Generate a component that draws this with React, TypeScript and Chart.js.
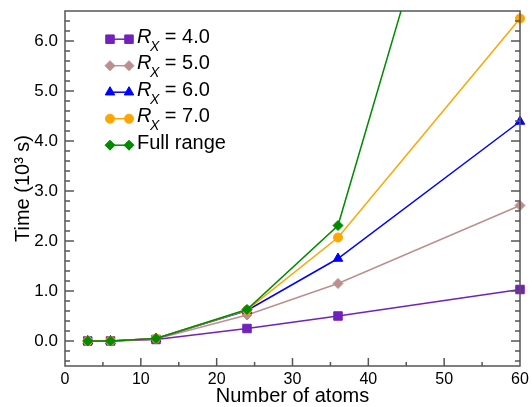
import React, { useEffect, useRef } from "react";
import { Chart, registerables } from "chart.js";

Chart.register(...registerables);

// ---- data ----
const atoms = [3, 6, 12, 24, 36, 60];
const rx4 = [0, 0, 0.03, 0.25, 0.5, 1.03];
const rx5 = [0, 0, 0.04, 0.52, 1.15, 2.71];
const rx6 = [0, 0, 0.05, 0.61, 1.65, 4.39];
const rx7 = [0, 0, 0.05, 0.62, 2.07, 6.45];
const fullRange = [0, 0, 0.05, 0.63, 2.31, 14.7];
const rxValues = ["4.0", "5.0", "6.0", "7.0"];
const fullLabel = "Full range";
const xTicks = [0, 10, 20, 30, 40, 50, 60];
const yTicks = [0, 1, 2, 3, 4, 5, 6];
const xTitle = "Number of atoms";
const yTitle = "Time (10\u00B3 s)";

const FONT = '"Liberation Sans", Arial, Helvetica, sans-serif';
const AXIS = "#555";

const C4 = "#7221bc";
const C5 = "#bc8f8f";
const C6 = "#0000ff";
const C7 = "#ffa500";
const CF = "#008b00";

type Marker = "square" | "diamond" | "triangle" | "circle";

const series = [
  { data: rx4, color: C4, marker: "square" as Marker, style: "rect", r: 6 },
  { data: rx5, color: C5, marker: "diamond" as Marker, style: "rectRot", r: 5 },
  { data: rx6, color: C6, marker: "triangle" as Marker, style: "triangle", r: 5.5 },
  { data: rx7, color: C7, marker: "circle" as Marker, style: "circle", r: 4.5 },
  { data: fullRange, color: CF, marker: "diamond" as Marker, style: "rectRot", r: 5 },
];

function drawMarker(ctx: CanvasRenderingContext2D, m: Marker, x: number, y: number, r: number, color: string) {
  ctx.save();
  ctx.fillStyle = color;
  ctx.strokeStyle = color;
  ctx.lineWidth = 1;
  ctx.beginPath();
  if (m === "square") {
    const s = Math.SQRT1_2 * r;
    ctx.rect(x - s, y - s, 2 * s, 2 * s);
  } else if (m === "diamond") {
    ctx.moveTo(x - r, y);
    ctx.lineTo(x, y - r);
    ctx.lineTo(x + r, y);
    ctx.lineTo(x, y + r);
    ctx.closePath();
  } else if (m === "triangle") {
    let a = 0;
    ctx.moveTo(x + Math.sin(a) * r, y - Math.cos(a) * r);
    a += (2 * Math.PI) / 3;
    ctx.lineTo(x + Math.sin(a) * r, y - Math.cos(a) * r);
    a += (2 * Math.PI) / 3;
    ctx.lineTo(x + Math.sin(a) * r, y - Math.cos(a) * r);
    ctx.closePath();
  } else {
    ctx.arc(x, y, r, 0, Math.PI * 2);
  }
  ctx.fill();
  ctx.stroke();
  ctx.restore();
}

const framePlugin = {
  id: "frame",
  afterDraw(chart: any) {
    const { ctx, chartArea: a, scales } = chart;
    const xs = scales.x;
    const ys = scales.y;
    ctx.save();
    ctx.strokeStyle = AXIS;
    ctx.lineWidth = 1.5;
    const line = (x1: number, y1: number, x2: number, y2: number) => {
      ctx.beginPath();
      ctx.moveTo(x1, y1);
      ctx.lineTo(x2, y2);
      ctx.stroke();
    };
    for (let v = -4; v <= 64; v += 2) {
      const py = ys.getPixelForValue(v / 10);
      const len = v % 10 === 0 ? 9 : 5;
      line(a.left, py, a.left + len, py);
      line(a.right, py, a.right - len, py);
    }
    for (let v = 5; v < 60; v += 5) {
      const px = xs.getPixelForValue(v);
      const len = v % 10 === 0 ? 8 : 4;
      line(px, a.bottom, px, a.bottom - len);
    }
    ctx.strokeRect(a.left, a.top, a.right - a.left, a.bottom - a.top);

    // legend
    const step = 26.5;
    for (let i = 0; i < series.length; i++) {
      const s = series[i];
      const base = 42.7 + i * step;
      const my = base - 3.5;
      ctx.strokeStyle = s.color;
      ctx.lineWidth = 1.5;
      line(110, my, 129, my);
      drawMarker(ctx, s.marker, 110, my, s.r, s.color);
      drawMarker(ctx, s.marker, 129, my, s.r, s.color);
      ctx.fillStyle = "#000";
      ctx.textAlign = "left";
      ctx.textBaseline = "alphabetic";
      let tx = 137;
      if (i < rxValues.length) {
        ctx.font = `italic 20px ${FONT}`;
        ctx.fillText("R", tx, base);
        tx += ctx.measureText("R").width - 1.5;
        ctx.font = `italic 14px ${FONT}`;
        ctx.fillText("X", tx, base + 8);
        tx += ctx.measureText("X").width;
        ctx.font = `20px ${FONT}`;
        ctx.fillText(" = " + rxValues[i], tx, base);
      } else {
        ctx.font = `20px ${FONT}`;
        ctx.fillText(fullLabel, tx, base);
      }
    }
    ctx.restore();
  },
};

export default function App() {
  const ref = useRef<HTMLCanvasElement | null>(null);
  useEffect(() => {
    if (!ref.current) return;
    const datasets = series.map((s, i) => ({
      label: String(i),
      data: atoms.map((x, j) => ({ x, y: s.data[j] })),
      borderColor: s.color,
      backgroundColor: s.color,
      borderWidth: 1.5,
      pointStyle: s.style,
      pointRadius: s.r,
      pointBorderWidth: 1,
      pointBackgroundColor: s.color,
      pointBorderColor: s.color,
      showLine: true,
      tension: 0,
      order: series.length - 1 - i,
      clip: i === series.length - 1 ? { left: 10, right: 10, top: 0, bottom: 10 } : (false as any),
    }));
    const chart = new Chart(ref.current, {
      type: "scatter",
      data: { datasets: datasets as any },
      plugins: [framePlugin],
      options: {
        animation: false,
        responsive: false,
        devicePixelRatio: 1,
        layout: { padding: { top: 11, right: 12, left: 0, bottom: 0 } },
        plugins: { legend: { display: false }, tooltip: { enabled: false } },
        scales: {
          x: {
            type: "linear",
            min: 0,
            max: 60,
            afterBuildTicks: (s: any) => {
              s.ticks = xTicks.map((v) => ({ value: v }));
            },
            afterFit: (s: any) => {
              s.height = 41;
              s.paddingLeft = 0;
              s.paddingRight = 0;
            },
            grid: { display: false, drawTicks: false },
            border: { display: false },
            ticks: {
              color: "#000",
              font: { size: 16, family: FONT },
              padding: 4,
              maxRotation: 0,
              autoSkip: false,
            },
            title: {
              display: true,
              text: xTitle,
              color: "#000",
              font: { size: 20, family: FONT, lineHeight: 1 },
              padding: { top: 0, bottom: 1 },
            },
          },
          y: {
            type: "linear",
            min: -0.5,
            max: 6.6,
            afterBuildTicks: (s: any) => {
              s.ticks = yTicks.map((v) => ({ value: v }));
            },
            afterFit: (s: any) => {
              s.width = 65;
              s.paddingTop = 0;
              s.paddingBottom = 0;
            },
            grid: { display: false, drawTicks: false },
            border: { display: false },
            ticks: {
              color: "#000",
              font: { size: 17, family: FONT },
              padding: 7,
              autoSkip: false,
              callback: (v: any) => Number(v).toFixed(1),
            },
            title: {
              display: true,
              text: yTitle,
              color: "#000",
              font: { size: 20, family: FONT, lineHeight: 1.2 },
              padding: { top: 11, bottom: 0 },
            },
          },
        },
      },
    });
    return () => chart.destroy();
  }, []);
  return (
    <div style={{ position: "absolute", left: 0, top: 0, width: 532, height: 407, background: "#fff" }}>
      <canvas ref={ref} width={532} height={407} />
    </div>
  );
}
